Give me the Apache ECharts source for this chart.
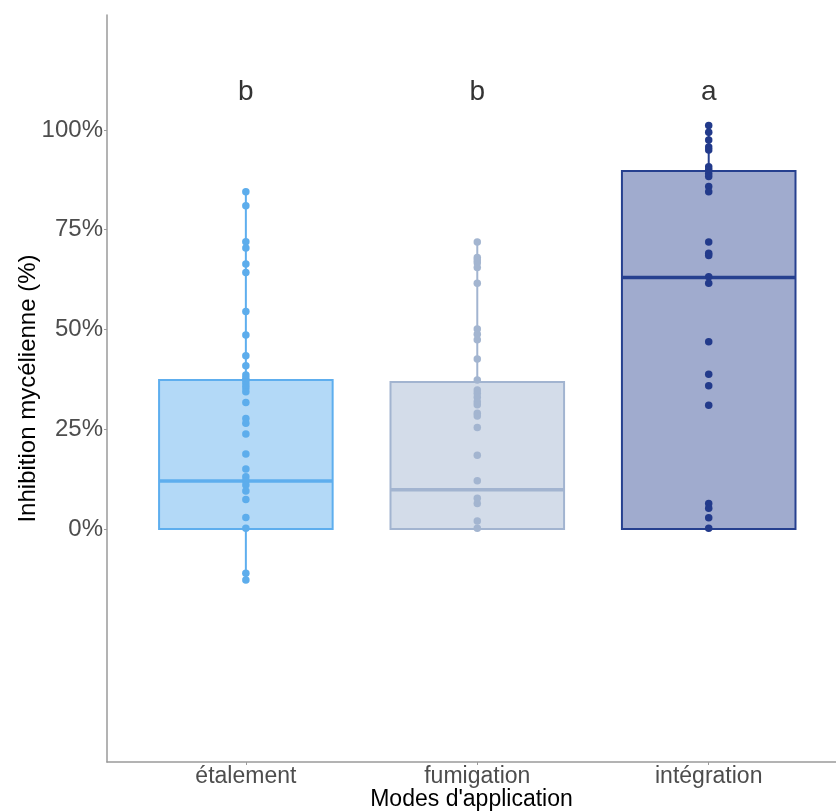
<!DOCTYPE html>
<html>
<head>
<meta charset="utf-8">
<script src="https://cdn.jsdelivr.net/npm/echarts@6/dist/echarts.min.js"></script>
<style>html,body{margin:0;padding:0;background:#fff}#c{width:836px;height:812px}</style>
</head>
<body>
<div id="c"></div>
<script>
const categories = ['étalement', 'fumigation', 'intégration'];
const yTicks = [0, 25, 50, 75, 100];
const letters = ['b', 'b', 'a'];
const letterY = 109.5;
// box stats: [min, Q1, median, Q3, max] in %
const boxEtalement = [-12.8, 0, 12.0, 37.3, 84.5];
const boxFumigation = [0, 0, 9.8, 36.8, 71.9];
const boxIntegration = [0, 0, 63.0, 89.7, 101.1];
const ptsEtalement = [84.5, 81.0, 72.0, 70.4, 66.4, 64.3, 54.5, 48.6, 43.4, 40.9, 38.6, 37.8, 36.9, 36.1, 35.3, 34.4, 31.7, 27.7, 26.5, 23.8, 18.8, 15.0, 13.1, 12.1, 11.0, 9.5, 7.4, 2.9, 0.2, -11.1, -12.8];
const ptsFumigation = [71.9, 68.0, 67.4, 66.7, 65.5, 61.6, 50.1, 48.8, 47.4, 42.6, 37.3, 34.8, 34.0, 33.0, 31.9, 31.1, 29.0, 28.3, 25.4, 18.5, 12.1, 7.7, 6.4, 2.0, 0.2];
const ptsIntegration = [101.1, 99.4, 97.5, 95.7, 95.0, 90.8, 90.0, 89.1, 88.3, 85.8, 84.5, 71.9, 69.1, 68.5, 63.2, 61.6, 46.9, 38.8, 35.9, 31.0, 6.4, 5.2, 2.8, 0.2];

const strokes = ['#5EAEEE', '#A2B4D0', '#26408F'];
const fills = ['rgba(94,174,238,0.47)', 'rgba(162,180,208,0.47)', 'rgba(38,64,143,0.44)'];
const pointColors = ['#5DADEC', '#A3B5D0', '#223A8B'];
const boxes = [boxEtalement, boxFumigation, boxIntegration];
const ptsAll = [ptsEtalement, ptsFumigation, ptsIntegration];
const boxHalf = 0.375;

const chart = echarts.init(document.getElementById('c'), null, {renderer: 'canvas'});
const font = 'Liberation Sans, Arial, Helvetica, sans-serif';

const boxSeries = {
  type: 'custom',
  data: boxes.map((b, i) => [i + 1].concat(b)),
  encode: {x: 0, y: [1, 2, 3, 4, 5]},
  z: 2,
  renderItem: function (params, api) {
    const i = params.dataIndex;
    const x = api.value(0);
    const mn = api.coord([x, api.value(1)]);
    const q1l = api.coord([x - boxHalf, api.value(2)]);
    const q1r = api.coord([x + boxHalf, api.value(2)]);
    const medl = api.coord([x - boxHalf, api.value(3)]);
    const medr = api.coord([x + boxHalf, api.value(3)]);
    const q3l = api.coord([x - boxHalf, api.value(4)]);
    const q3c = api.coord([x, api.value(4)]);
    const mx = api.coord([x, api.value(5)]);
    const q1c = api.coord([x, api.value(2)]);
    return {
      type: 'group',
      children: [
        {type: 'line', shape: {x1: mx[0], y1: mx[1], x2: q3c[0], y2: q3c[1]}, style: {stroke: strokes[i], lineWidth: 2}},
        {type: 'line', shape: {x1: q1c[0], y1: q1c[1], x2: mn[0], y2: mn[1]}, style: {stroke: strokes[i], lineWidth: 2}},
        {type: 'rect', shape: {x: q3l[0], y: q3l[1], width: q1r[0] - q1l[0], height: q1l[1] - q3l[1]}, style: {fill: fills[i], stroke: strokes[i], lineWidth: 2}},
        {type: 'line', shape: {x1: medl[0], y1: medl[1], x2: medr[0], y2: medr[1]}, style: {stroke: strokes[i], lineWidth: 3.5}}
      ]
    };
  }
};

const scatterSeries = ptsAll.map((pts, i) => ({
  type: 'scatter',
  data: pts.map(v => [i + 1, v]),
  symbolSize: 7.5,
  itemStyle: {color: pointColors[i], opacity: 1},
  z: 3
}));

const letterSeries = {
  type: 'scatter',
  data: letters.map((l, i) => [i + 1, letterY]),
  symbolSize: 0,
  z: 4,
  label: {
    show: true, position: 'inside',
    formatter: p => letters[p.dataIndex],
    fontSize: 28, color: '#000', fontFamily: font
  }
};

chart.setOption({
  animation: false,
  backgroundColor: '#fff',
  grid: {left: 107, right: 0, top: 15, bottom: 50, containLabel: false, outerBoundsMode: 'none'},
  xAxis: {
    type: 'value', min: 0.4, max: 3.55,
    name: "Modes d'application", nameLocation: 'middle', nameGap: 26, nameMoveOverlap: false,
    nameTextStyle: {fontSize: 23, color: '#000', fontFamily: font},
    axisLine: {show: true, onZero: false, lineStyle: {color: '#9a9a9a', width: 1.5}},
    axisTick: {show: true, customValues: [1, 2, 3], length: 3, lineStyle: {color: '#9a9a9a'}},
    axisLabel: {customValues: [1, 2, 3], formatter: v => categories[Math.round(v) - 1], fontSize: 23, color: '#4D4D4D', fontFamily: font, margin: 3},
    splitLine: {show: false}
  },
  yAxis: {
    type: 'value', min: -58.4, max: 128.8,
    name: 'Inhibition mycélienne (%)', nameLocation: 'middle', nameGap: 67, nameMoveOverlap: false,
    nameTextStyle: {fontSize: 24, color: '#000', fontFamily: font},
    axisLine: {show: true, onZero: false, lineStyle: {color: '#9a9a9a', width: 1.5}},
    axisTick: {show: true, customValues: yTicks, length: 3, lineStyle: {color: '#9a9a9a'}},
    axisLabel: {customValues: yTicks, formatter: v => v + '%', fontSize: 24, color: '#4D4D4D', fontFamily: font, margin: 4},
    splitLine: {show: false}
  },
  series: [boxSeries].concat(scatterSeries).concat([letterSeries])
});
</script>
</body>
</html>
